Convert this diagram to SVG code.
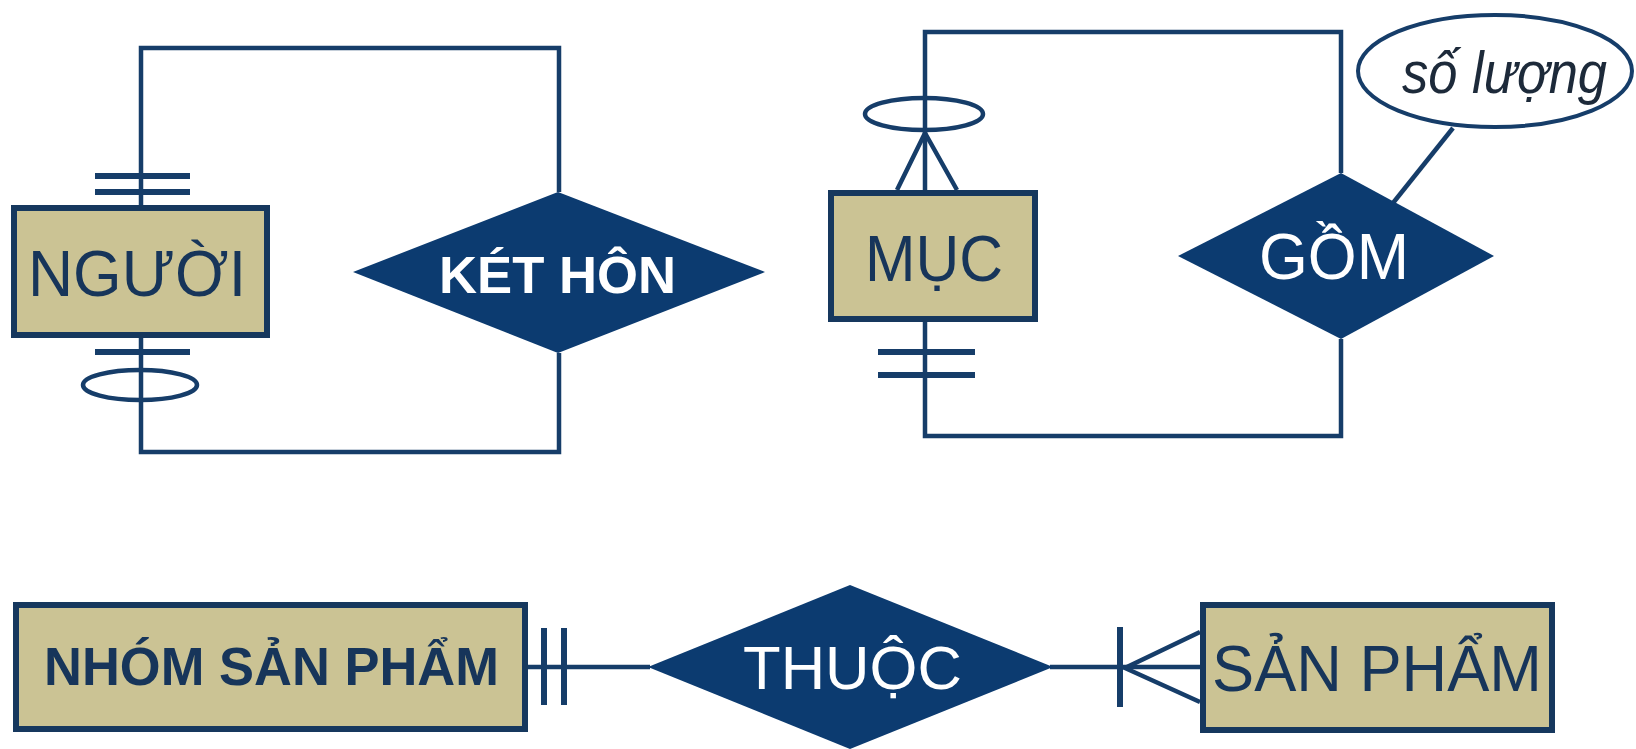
<svg xmlns="http://www.w3.org/2000/svg" width="1636" height="749" viewBox="0 0 1636 749">
  <style>
    .entity rect { fill: #cbc394; stroke: #16385e; stroke-width: 6; }
    .entity text { fill: #17355a; font-family: "Liberation Sans", Arial, sans-serif; }
    .rel polygon { fill: #0c3b70; }
    .rel text { fill: #ffffff; font-family: "Liberation Sans", Arial, sans-serif; }
    .line { fill: none; stroke: #163d69; stroke-width: 4.5; stroke-linejoin: miter; }
    .bar { stroke: #163d69; stroke-width: 6; }
    .attr ellipse { fill: #ffffff; stroke: #163d69; stroke-width: 4; }
    .attr text { fill: #1d2a3a; font-family: "Liberation Sans", Arial, sans-serif; font-style: italic; }
  </style>

  <!-- connectors and cardinality marks -->
  <g id="connectors">
    <!-- NGƯỜI – KẾT HÔN (recursive) -->
    <polyline class="line" points="141,205 141,48 559,48 559,192"/>
    <polyline class="line" points="141,338 141,452 559,452 559,353"/>
    <line class="bar" x1="95" y1="176" x2="190" y2="176"/>
    <line class="bar" x1="95" y1="192" x2="190" y2="192"/>
    <line class="bar" x1="95" y1="352" x2="190" y2="352"/>
    <ellipse class="line" cx="140" cy="385" rx="57" ry="15"/>

    <!-- MỤC – GỒM (recursive) -->
    <polyline class="line" points="925,190 925,32 1341,32 1341,173"/>
    <polyline class="line" points="925,322 925,436 1341,436 1341,339"/>
    <ellipse class="line" cx="924" cy="114" rx="59" ry="16"/>
    <polyline class="line" points="897,190 925,133 957,190"/>
    <line class="bar" x1="878" y1="352" x2="975" y2="352"/>
    <line class="bar" x1="878" y1="375" x2="975" y2="375"/>

    <!-- attribute link -->
    <line class="line" x1="1393" y1="203" x2="1453" y2="128"/>

    <!-- NHÓM SẢN PHẨM – THUỘC – SẢN PHẨM -->
    <line class="line" x1="528" y1="667" x2="650" y2="667"/>
    <line class="line" x1="1050" y1="667" x2="1200" y2="667"/>
    <line class="bar" x1="544" y1="628" x2="544" y2="705"/>
    <line class="bar" x1="564" y1="628" x2="564" y2="705"/>
    <line class="bar" x1="1120" y1="627" x2="1120" y2="707"/>
    <polyline class="line" points="1200,632 1125,668 1200,702"/>
  </g>

  <!-- entities -->
  <g id="nguoi" class="entity">
    <rect x="14" y="208" width="253" height="127"/>
    <text x="28" y="296" font-size="65" textLength="218" lengthAdjust="spacingAndGlyphs">NGƯỜI</text>
  </g>
  <g id="muc" class="entity">
    <rect x="831" y="193" width="204" height="126"/>
    <text x="865" y="281" font-size="65" textLength="138" lengthAdjust="spacingAndGlyphs">MỤC</text>
  </g>
  <g id="nhom-san-pham" class="entity">
    <rect x="16" y="605" width="509" height="124"/>
    <text x="44" y="685" font-size="53" font-weight="bold" textLength="455" lengthAdjust="spacingAndGlyphs">NHÓM SẢN PHẨM</text>
  </g>
  <g id="san-pham" class="entity">
    <rect x="1203" y="605" width="349" height="125"/>
    <text x="1212" y="691" font-size="64" textLength="330" lengthAdjust="spacingAndGlyphs">SẢN PHẨM</text>
  </g>

  <!-- relationships -->
  <g id="ket-hon" class="rel">
    <polygon points="353,272 558,192 765,272 558,353"/>
    <text x="439" y="293" font-size="52" font-weight="bold" textLength="237" lengthAdjust="spacingAndGlyphs">KÉT HÔN</text>
  </g>
  <g id="gom" class="rel">
    <polygon points="1178,256 1341,173 1494,256 1341,339"/>
    <text x="1259" y="279" font-size="64" textLength="150" lengthAdjust="spacingAndGlyphs">GỒM</text>
  </g>
  <g id="thuoc" class="rel">
    <polygon points="648,667 850,585 1053,667 850,749"/>
    <text x="743" y="689" font-size="62" textLength="219" lengthAdjust="spacingAndGlyphs">THUỘC</text>
  </g>

  <!-- attribute -->
  <g id="so-luong" class="attr">
    <ellipse cx="1495" cy="71" rx="137" ry="56"/>
    <text x="1402" y="93" font-size="60" textLength="205" lengthAdjust="spacingAndGlyphs">số lượng</text>
  </g>
</svg>
